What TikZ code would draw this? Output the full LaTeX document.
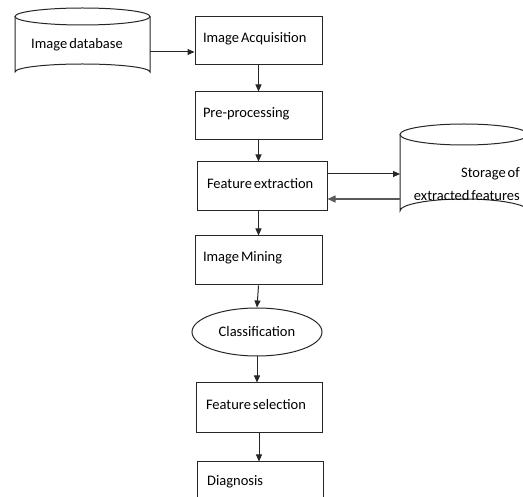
\documentclass[tikz,border=0pt]{standalone}
\usepackage{fontspec}
\setmainfont[WordSpace=0.6]{Carlito}
\usetikzlibrary{arrows.meta,shapes.geometric}
\tikzset{
  box/.style={draw=black!85, line width=1pt, rectangle, minimum height=48pt, inner xsep=8pt, inner ysep=0pt, text width=#1, align=flush left, font=\fontsize{14.5}{16}\selectfont, text depth=7pt},
  flow/.style={draw=black!85, line width=1pt, -{Triangle[length=7pt,width=6pt]}},
  back/.style={draw=black!65, line width=1.4pt, -{Triangle[length=8pt,width=7pt]}},
  txt/.style={font=\fontsize{14.5}{16}\selectfont, inner sep=0pt},
  cyl/.style={draw=black!85, line width=1pt}
}
\begin{document}
\begin{tikzpicture}[x=1pt,y=-1pt]
\useasboundingbox (0,0) rectangle (523,497);
\clip (0,0) rectangle (523,497);
\fill[white] (0,0) rectangle (523,497);
% Image database cylinder
\draw[cyl] (82.5,16.5) ellipse [x radius=67.5, y radius=8.5];
\draw[cyl] (15,16.5) -- (15,72) arc[start angle=180,end angle=360,x radius=67.5,y radius=8] -- (150,16.5);
\node[txt, anchor=west] (db) at (31,45) {Image database};
\coordinate (dbr) at (150,52);
% Storage cylinder
\draw[cyl] (464,134.5) ellipse [x radius=64, y radius=10.5];
\draw[cyl] (400,134.5) -- (400,211) arc[start angle=180,end angle=360,x radius=64,y radius=12] -- (528,134.5);
\node[txt, anchor=east, align=flush right] (st) at (520,184) {Storage of\\[7pt]extracted features};
\coordinate (stin) at (400,174);
\coordinate (stout) at (400,199);
% boxes
\node[box=111pt] (acq) at (258.5,41) {Image Acquisition};
\node[box=111pt] (pre) at (258.5,116) {Pre-processing};
\node[box=114pt, minimum height=49pt] (fe) at (262,186.5) {\hspace*{2pt}Feature extraction};
\node[box=111pt, minimum height=49pt] (im) at (258.5,260.5) {Image Mining};
\node[draw=black!85, line width=1pt, ellipse, minimum width=130pt, minimum height=48pt, inner sep=0pt, font=\fontsize{14.5}{16}\selectfont] (cl) at (257,332) {Classification};
\node[box=110pt, minimum height=50pt] (fs) at (259,408) {\hspace*{2pt}Feature selection};
\node[box=110pt, minimum height=76pt, text depth=0pt] (dg) at (260,500) {};
\node[txt, anchor=west] (dgt) at (207,482) {Diagnosis};
% connectors
\draw[flow] (dbr) -- (dbr -| acq.west);
\draw[flow] (acq.south) -- (acq.south |- pre.north);
\draw[flow] (pre.south) -- (pre.south |- fe.north);
\draw[flow] (fe.south -| im) -- (im.north);
\draw[flow] (im.south) -- (cl.north);
\draw[flow] (cl.south) -- (cl.south |- fs.north);
\draw[flow] (fs.south) -- (fs.south |- dg.north);
\draw[flow] (stin -| fe.east) -- (stin);
\draw[back] (stout) -- (stout -| fe.east);
\end{tikzpicture}
\end{document}
